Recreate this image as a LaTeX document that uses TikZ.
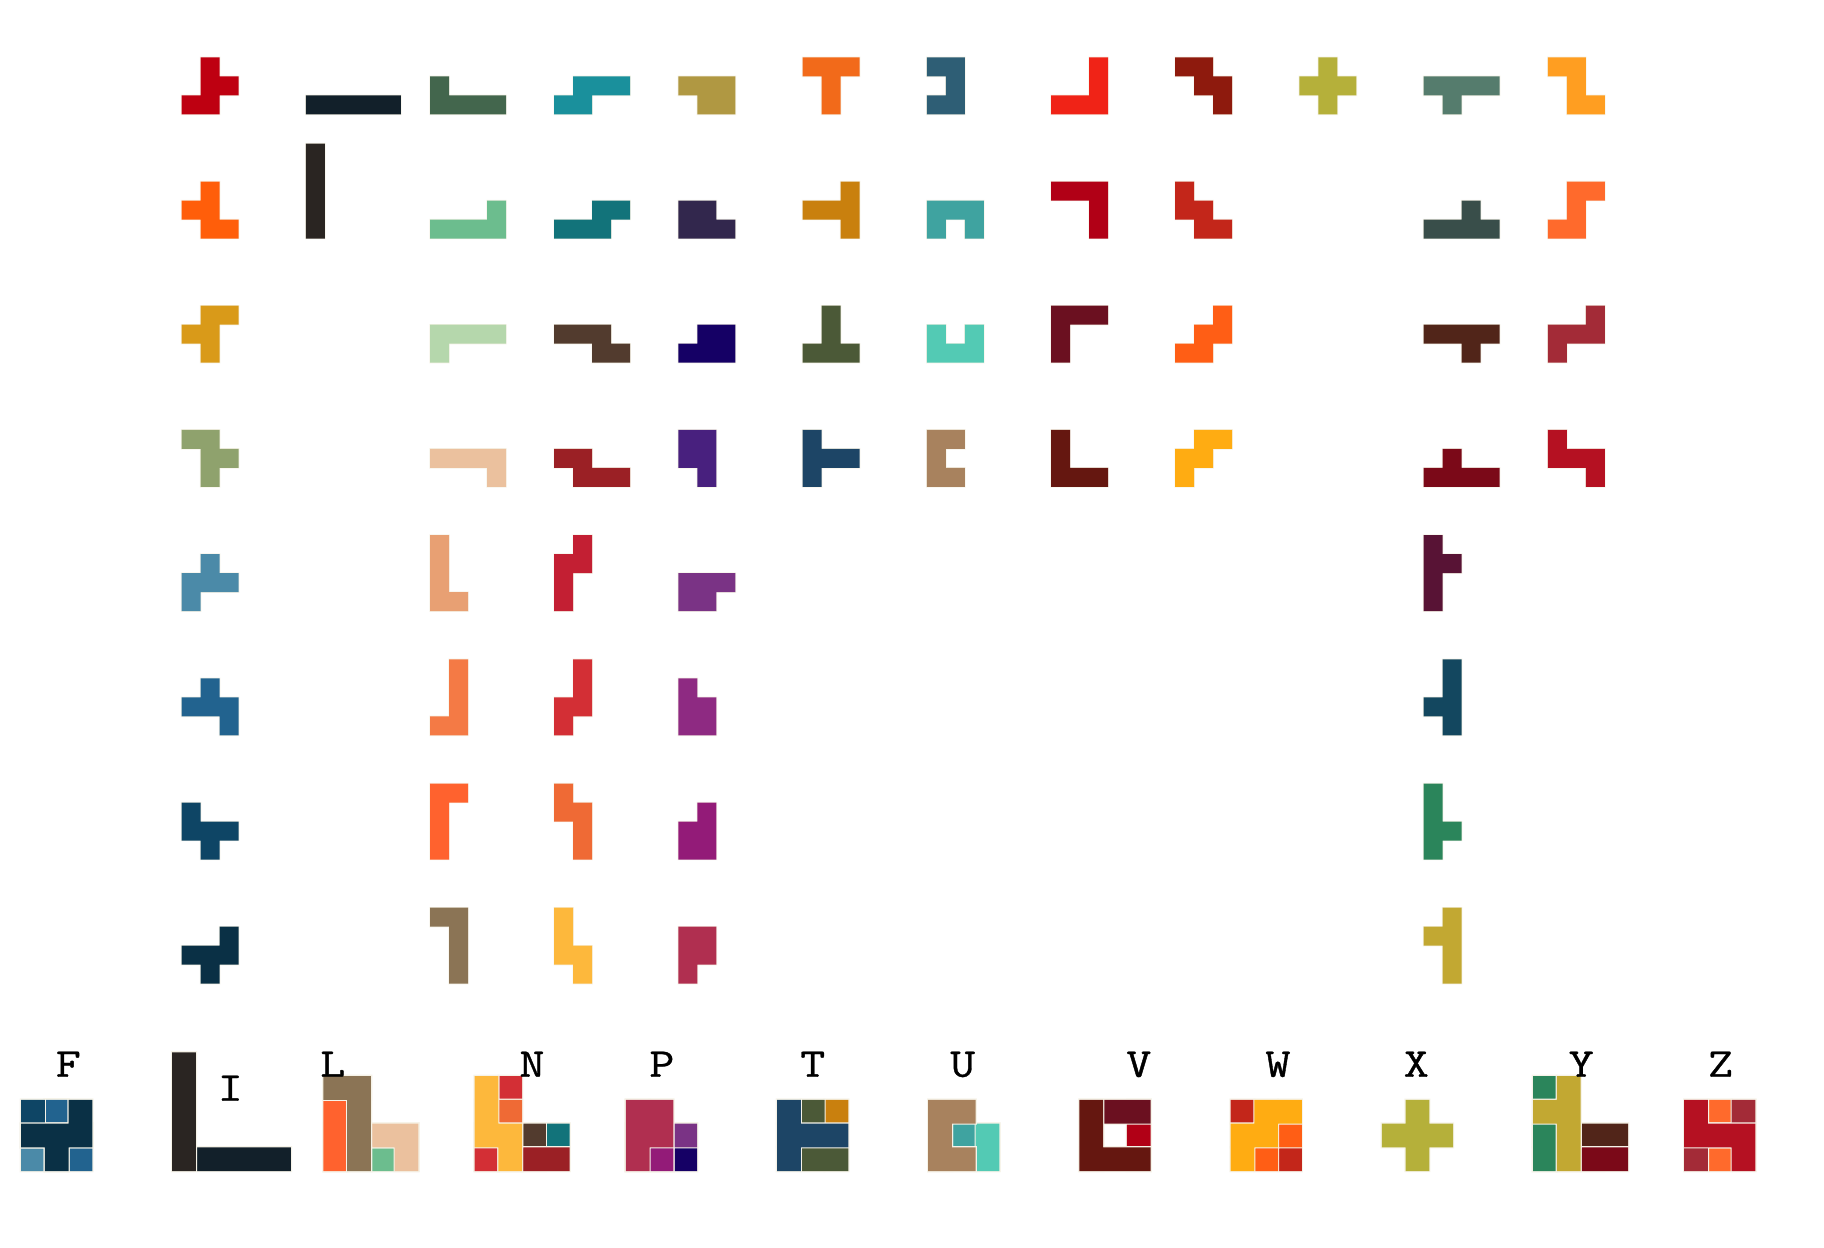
\documentclass[tikz,border=0pt]{standalone}
\usepackage{fontspec}
\newfontfamily\lblfont{Latin Modern Mono}[FakeBold=0.8]
\definecolor{edgec}{HTML}{F6F3E8}
% F
\definecolor{F1}{HTML}{BE0011}\definecolor{F2}{HTML}{FF5E0A}\definecolor{F3}{HTML}{D99A19}\definecolor{F4}{HTML}{8FA26D}
\definecolor{F5}{HTML}{4B8AA8}\definecolor{F6}{HTML}{22638F}\definecolor{F7}{HTML}{0E4565}\definecolor{F8}{HTML}{0A3045}
% I
\definecolor{I1}{HTML}{12202A}\definecolor{I2}{HTML}{2A2522}
% L
\definecolor{L1}{HTML}{43664D}\definecolor{L2}{HTML}{6CBD8E}\definecolor{L3}{HTML}{B5D7AC}\definecolor{L4}{HTML}{EBC19E}
\definecolor{L5}{HTML}{E8A073}\definecolor{L6}{HTML}{F47A45}\definecolor{L7}{HTML}{FF622E}\definecolor{L8}{HTML}{8B7455}
% N
\definecolor{N1}{HTML}{1A909C}\definecolor{N2}{HTML}{12737A}\definecolor{N3}{HTML}{523B2E}\definecolor{N4}{HTML}{9B2025}
\definecolor{N5}{HTML}{C31F33}\definecolor{N6}{HTML}{D32F35}\definecolor{N7}{HTML}{EF6A35}\definecolor{N8}{HTML}{FDB83C}
% P
\definecolor{P1}{HTML}{B09842}\definecolor{P2}{HTML}{32274D}\definecolor{P3}{HTML}{150065}\definecolor{P4}{HTML}{48207E}
\definecolor{P5}{HTML}{7A3385}\definecolor{P6}{HTML}{8E2A82}\definecolor{P7}{HTML}{931B78}\definecolor{P8}{HTML}{B02F50}
% T
\definecolor{T1}{HTML}{F26A1A}\definecolor{T2}{HTML}{C9800E}\definecolor{T3}{HTML}{4B5937}\definecolor{T4}{HTML}{1D4566}
% U
\definecolor{U1}{HTML}{2E5E75}\definecolor{U2}{HTML}{3FA3A0}\definecolor{U3}{HTML}{53CAB4}\definecolor{U4}{HTML}{A8825E}
% V
\definecolor{V1}{HTML}{F02317}\definecolor{V2}{HTML}{B10016}\definecolor{V3}{HTML}{6B1020}\definecolor{V4}{HTML}{651710}
% W
\definecolor{W1}{HTML}{8E1A0D}\definecolor{W2}{HTML}{C3261A}\definecolor{W3}{HTML}{FF5E15}\definecolor{W4}{HTML}{FFAC12}
% X
\definecolor{X1}{HTML}{B5B03A}
% Y
\definecolor{Y1}{HTML}{557C6D}\definecolor{Y2}{HTML}{394E4A}\definecolor{Y3}{HTML}{512519}\definecolor{Y4}{HTML}{7B0918}
\definecolor{Y5}{HTML}{581335}\definecolor{Y6}{HTML}{13475F}\definecolor{Y7}{HTML}{2B855B}\definecolor{Y8}{HTML}{C2A832}
% Z
\definecolor{Z1}{HTML}{FF9E21}\definecolor{Z2}{HTML}{FF6A2C}\definecolor{Z3}{HTML}{A32B37}\definecolor{Z4}{HTML}{B51122}

% shapes: col/row (row counted from the bottom)
\def\Fa{1/2,1/1,2/1,0/0,1/0}\def\Fb{1/2,0/1,1/1,1/0,2/0}\def\Fc{1/2,2/2,0/1,1/1,1/0}\def\Fd{0/2,1/2,1/1,2/1,1/0}
\def\Fe{1/2,0/1,1/1,2/1,0/0}\def\Ff{1/2,0/1,1/1,2/1,2/0}\def\Fg{0/2,0/1,1/1,2/1,1/0}\def\Fh{2/2,0/1,1/1,2/1,1/0}
\def\Ia{0/0,1/0,2/0,3/0,4/0}\def\Ib{0/0,0/1,0/2,0/3,0/4}
\def\La{0/1,0/0,1/0,2/0,3/0}\def\Lb{3/1,0/0,1/0,2/0,3/0}\def\Lc{0/1,1/1,2/1,3/1,0/0}\def\Ld{0/1,1/1,2/1,3/1,3/0}
\def\Le{0/0,0/1,0/2,0/3,1/0}\def\Lf{1/0,1/1,1/2,1/3,0/0}\def\Lg{0/0,0/1,0/2,0/3,1/3}\def\Lh{1/0,1/1,1/2,1/3,0/3}
\def\Na{1/1,2/1,3/1,0/0,1/0}\def\Nb{2/1,3/1,0/0,1/0,2/0}\def\Nc{0/1,1/1,2/1,2/0,3/0}\def\Nd{0/1,1/1,1/0,2/0,3/0}
\def\Ne{1/3,0/2,1/2,0/1,0/0}\def\Nf{1/3,1/2,0/1,1/1,0/0}\def\Ng{0/3,0/2,1/2,1/1,1/0}\def\Nh{0/3,0/2,0/1,1/1,1/0}
\def\Pa{0/1,1/1,2/1,1/0,2/0}\def\Pb{0/1,1/1,0/0,1/0,2/0}\def\Pc{1/1,2/1,0/0,1/0,2/0}\def\Pd{0/2,1/2,0/1,1/1,1/0}
\def\Pe{0/1,1/1,2/1,0/0,1/0}\def\Pf{0/2,0/1,1/1,0/0,1/0}\def\Pg{1/2,0/1,1/1,0/0,1/0}\def\Ph{0/2,1/2,0/1,1/1,0/0}
\def\Ta{0/2,1/2,2/2,1/1,1/0}\def\Tb{2/2,0/1,1/1,2/1,2/0}\def\Tc{1/2,1/1,0/0,1/0,2/0}\def\Td{0/2,0/1,1/1,2/1,0/0}
\def\Ua{0/2,1/2,1/1,0/0,1/0}\def\Ub{0/1,1/1,2/1,0/0,2/0}\def\Uc{0/1,2/1,0/0,1/0,2/0}\def\Ud{0/2,1/2,0/1,0/0,1/0}
\def\Va{2/2,2/1,0/0,1/0,2/0}\def\Vb{0/2,1/2,2/2,2/1,2/0}\def\Vc{0/2,1/2,2/2,0/1,0/0}\def\Vd{0/2,0/1,0/0,1/0,2/0}
\def\Wa{0/2,1/2,1/1,2/1,2/0}\def\Wb{0/2,0/1,1/1,1/0,2/0}\def\Wc{2/2,1/1,2/1,0/0,1/0}\def\Wd{1/2,2/2,0/1,1/1,0/0}
\def\Xa{1/2,0/1,1/1,2/1,1/0}
\def\Ya{0/1,1/1,2/1,3/1,1/0}\def\Yb{2/1,0/0,1/0,2/0,3/0}\def\Yc{0/1,1/1,2/1,3/1,2/0}\def\Yd{1/1,0/0,1/0,2/0,3/0}
\def\Ye{0/3,0/2,1/2,0/1,0/0}\def\Yf{1/3,1/2,0/1,1/1,1/0}\def\Yg{0/3,0/2,0/1,1/1,0/0}\def\Yh{1/3,0/2,1/2,1/1,1/0}
\def\Za{0/2,1/2,1/1,1/0,2/0}\def\Zb{1/2,2/2,1/1,0/0,1/0}\def\Zc{2/2,0/1,1/1,2/1,0/0}\def\Zd{0/2,0/1,1/1,2/1,2/0}

% piece: #1 left x, #2 bottom y, #3 cell, #4 colour, #5 cell list, #6 edge width
\newcommand\pc[6]{%
  \fill[edgec] \foreach \a/\b in #5 {({#1+\a*#3-#6},{#2-\b*#3+#6}) rectangle ({#1+(\a+1)*#3+#6},{#2-(\b+1)*#3-#6})};
  \fill[#4] \foreach \a/\b in #5 {({#1+\a*#3},{#2-\b*#3}) rectangle ({#1+(\a+1)*#3},{#2-(\b+1)*#3})};
}
\newcommand\gp[4]{\pc{181.6+#1*124.2}{114.3+#2*124.2}{19}{#3}{#4}{0.7}}
\newcommand\op[3]{\pc{21+#1*151.2}{1171}{23.75}{#2}{#3}{1.1}}
\newcommand\sx[1]{\scalebox{1.18}[1]{#1}}

\begin{document}
\begin{tikzpicture}[x=1pt,y=-1pt,
  lbl/.style={anchor=base,inner sep=0pt,font=\fontsize{41}{41}\selectfont\lblfont}]
\fill[white] (0,0) rectangle (1824,1248);
\useasboundingbox (0,0) rectangle (1824,1248);

% ---------- grid of orientations ----------
\gp{0}{0}{F1}{\Fa}\gp{0}{1}{F2}{\Fb}\gp{0}{2}{F3}{\Fc}\gp{0}{3}{F4}{\Fd}
\gp{0}{4}{F5}{\Fe}\gp{0}{5}{F6}{\Ff}\gp{0}{6}{F7}{\Fg}\gp{0}{7}{F8}{\Fh}
\gp{1}{0}{I1}{\Ia}\gp{1}{1}{I2}{\Ib}
\gp{2}{0}{L1}{\La}\gp{2}{1}{L2}{\Lb}\gp{2}{2}{L3}{\Lc}\gp{2}{3}{L4}{\Ld}
\gp{2}{4}{L5}{\Le}\gp{2}{5}{L6}{\Lf}\gp{2}{6}{L7}{\Lg}\gp{2}{7}{L8}{\Lh}
\gp{3}{0}{N1}{\Na}\gp{3}{1}{N2}{\Nb}\gp{3}{2}{N3}{\Nc}\gp{3}{3}{N4}{\Nd}
\gp{3}{4}{N5}{\Ne}\gp{3}{5}{N6}{\Nf}\gp{3}{6}{N7}{\Ng}\gp{3}{7}{N8}{\Nh}
\gp{4}{0}{P1}{\Pa}\gp{4}{1}{P2}{\Pb}\gp{4}{2}{P3}{\Pc}\gp{4}{3}{P4}{\Pd}
\gp{4}{4}{P5}{\Pe}\gp{4}{5}{P6}{\Pf}\gp{4}{6}{P7}{\Pg}\gp{4}{7}{P8}{\Ph}
\gp{5}{0}{T1}{\Ta}\gp{5}{1}{T2}{\Tb}\gp{5}{2}{T3}{\Tc}\gp{5}{3}{T4}{\Td}
\gp{6}{0}{U1}{\Ua}\gp{6}{1}{U2}{\Ub}\gp{6}{2}{U3}{\Uc}\gp{6}{3}{U4}{\Ud}
\gp{7}{0}{V1}{\Va}\gp{7}{1}{V2}{\Vb}\gp{7}{2}{V3}{\Vc}\gp{7}{3}{V4}{\Vd}
\gp{8}{0}{W1}{\Wa}\gp{8}{1}{W2}{\Wb}\gp{8}{2}{W3}{\Wc}\gp{8}{3}{W4}{\Wd}
\gp{9}{0}{X1}{\Xa}
\gp{10}{0}{Y1}{\Ya}\gp{10}{1}{Y2}{\Yb}\gp{10}{2}{Y3}{\Yc}\gp{10}{3}{Y4}{\Yd}
\gp{10}{4}{Y5}{\Ye}\gp{10}{5}{Y6}{\Yf}\gp{10}{6}{Y7}{\Yg}\gp{10}{7}{Y8}{\Yh}
\gp{11}{0}{Z1}{\Za}\gp{11}{1}{Z2}{\Zb}\gp{11}{2}{Z3}{\Zc}\gp{11}{3}{Z4}{\Zd}

% ---------- overlays ----------
\op{0}{F1}{\Fa}\op{0}{F2}{\Fb}\op{0}{F3}{\Fc}\op{0}{F4}{\Fd}\op{0}{F5}{\Fe}\op{0}{F6}{\Ff}\op{0}{F7}{\Fg}\op{0}{F8}{\Fh}
\op{1}{I1}{\Ia}\op{1}{I2}{\Ib}
\op{2}{L1}{\La}\op{2}{L2}{\Lb}\op{2}{L3}{\Lc}\op{2}{L4}{\Ld}\op{2}{L5}{\Le}\op{2}{L6}{\Lf}\op{2}{L7}{\Lg}\op{2}{L8}{\Lh}
\op{3}{N1}{\Na}\op{3}{N2}{\Nb}\op{3}{N3}{\Nc}\op{3}{N4}{\Nd}\op{3}{N5}{\Ne}\op{3}{N6}{\Nf}\op{3}{N7}{\Ng}\op{3}{N8}{\Nh}
\op{4}{P1}{\Pa}\op{4}{P2}{\Pb}\op{4}{P3}{\Pc}\op{4}{P4}{\Pd}\op{4}{P5}{\Pe}\op{4}{P6}{\Pf}\op{4}{P7}{\Pg}\op{4}{P8}{\Ph}
\op{5}{T1}{\Ta}\op{5}{T2}{\Tb}\op{5}{T3}{\Tc}\op{5}{T4}{\Td}
\op{6}{U1}{\Ua}\op{6}{U2}{\Ub}\op{6}{U3}{\Uc}\op{6}{U4}{\Ud}
\op{7}{V1}{\Va}\op{7}{V2}{\Vb}\op{7}{V3}{\Vc}\op{7}{V4}{\Vd}
\op{8}{W1}{\Wa}\op{8}{W2}{\Wb}\op{8}{W3}{\Wc}\op{8}{W4}{\Wd}
\op{9}{X1}{\Xa}
\op{10}{Y1}{\Ya}\op{10}{Y2}{\Yb}\op{10}{Y3}{\Yc}\op{10}{Y4}{\Yd}\op{10}{Y5}{\Ye}\op{10}{Y6}{\Yf}\op{10}{Y7}{\Yg}\op{10}{Y8}{\Yh}
\op{11}{Z1}{\Za}\op{11}{Z2}{\Zb}\op{11}{Z3}{\Zc}\op{11}{Z4}{\Zd}

% ---------- labels ----------
\node[lbl] (lF) at (68.3,1076.7) {\sx{F}};
\node[lbl] (lI) at (230.3,1100.7) {\sx{I}};
\node[lbl] (lL) at (332.7,1076.7) {\sx{L}};
\node[lbl] (lN) at (532,1076.7) {\sx{N}};
\node[lbl] (lP) at (661.9,1076.7) {\sx{P}};
\node[lbl] (lT) at (812.7,1076.7) {\sx{T}};
\node[lbl] (lU) at (962.7,1076.7) {\sx{U}};
\node[lbl] (lV) at (1138.8,1076.7) {\sx{V}};
\node[lbl] (lW) at (1277.9,1076.7) {\sx{W}};
\node[lbl] (lX) at (1416.3,1076.7) {\sx{X}};
\node[lbl] (lY) at (1581.2,1076.7) {\sx{Y}};
\node[lbl] (lZ) at (1720.5,1076.7) {\sx{Z}};
\end{tikzpicture}
\end{document}
